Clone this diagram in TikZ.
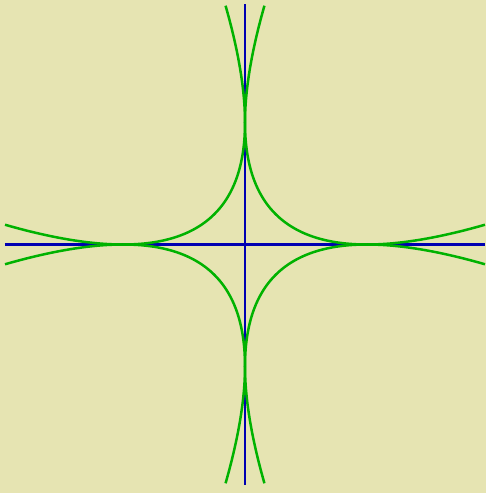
\documentclass[tikz,border=0pt]{standalone}
\definecolor{bgbeige}{RGB}{230,228,178}
\definecolor{axisblue}{RGB}{0,0,178}
\definecolor{curvegreen}{RGB}{0,178,0}
\tikzset{
  axisline/.style={draw=axisblue,line width=2.2pt},
  parab/.style={draw=curvegreen,line width=2.5pt},
}
\begin{document}
\begin{tikzpicture}[x=1pt,y=1pt]
  \fill[bgbeige] (-245,-248.5) rectangle (241,244.5);
  \useasboundingbox (-245,-248.5) rectangle (241,244.5);
  \coordinate (L) at (-240,0);
  \coordinate (R) at (240,0);
  \coordinate (T) at (0,240);
  \coordinate (B) at (0,-240);
  \draw[axisline] (L) -- (R);
  \draw[axisline] (B) -- (T);
  \foreach \sx/\sy in {1/1,-1/1,1/-1,-1/-1}{
    \draw[parab] plot[domain=-0.4025:1.4025,samples=240,variable=\t,smooth]
      ({\sx*122*(1-\t)*(1-\t)},{\sy*122*(\t)*(\t)});
  }
\end{tikzpicture}
\end{document}
